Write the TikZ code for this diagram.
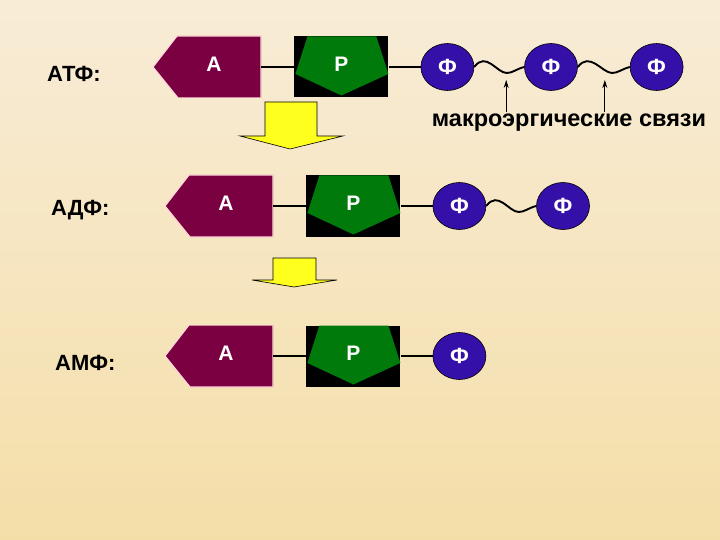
\documentclass[tikz,border=0pt]{standalone}
\usepackage{fontspec}
\setmainfont{Liberation Sans}
\usetikzlibrary{arrows.meta,positioning,shapes.geometric,calc}

\definecolor{bgtop}{HTML}{F8ECD7}
\definecolor{bgbot}{HTML}{F4DEA8}
\definecolor{adenin}{HTML}{7A0042}
\definecolor{ribose}{HTML}{007A0A}
\definecolor{phos}{HTML}{3510A8}
\definecolor{yarr}{HTML}{FFFF1E}

\newcommand\raisetxt[2]{\hspace*{#1}\raisebox{5pt}{#2}}

\begin{document}
\begin{tikzpicture}[x=1pt, y=-1pt,
  base/.style={rectangle, minimum width=108pt, minimum height=62pt, inner sep=0pt,
    font=\fontsize{21}{21}\selectfont\bfseries, text=white,
    path picture={\filldraw[fill=adenin, draw=pink!60!white, line width=1.2pt]
      ($(path picture bounding box.north west)+(24,0)$) -- (path picture bounding box.north east)
      -- (path picture bounding box.south east) -- ($(path picture bounding box.south west)+(25,0)$)
      -- (path picture bounding box.west) -- cycle;}},
  sugar/.style={rectangle, fill=black, minimum width=94pt, minimum height=61pt, inner sep=0pt,
    font=\fontsize{21}{21}\selectfont\bfseries, text=white,
    path picture={\fill[ribose]
      ($(path picture bounding box.north west)+(13,0)$) -- ($(path picture bounding box.north east)+(-12,0)$)
      -- ($(path picture bounding box.east)+(0,7)$) -- ($(path picture bounding box.south)+(0,-2)$)
      -- ($(path picture bounding box.west)+(1,7)$) -- cycle;}},
  phos/.style={ellipse, fill=phos, draw=black, line width=0.6pt, minimum width=53pt, minimum height=47pt,
    inner sep=0pt, font=\fontsize{22}{22}\selectfont\bfseries, text=white},
  link/.style={line width=1.4pt},
  bond/.style={line width=1.9pt},
  tip/.style={-{Stealth[length=8pt,width=5pt]}, line width=0.8pt},
  rowlab/.style={font=\fontsize{22}{22}\selectfont\bfseries, anchor=base west, inner sep=0pt},
  lab/.style={font=\fontsize{23.5}{23.5}\selectfont\bfseries, inner sep=2pt},
  yarrow/.style={fill=yarr, draw=black, line width=0.6pt}]
\shade[top color=bgtop, bottom color=bgbot] (0,0) rectangle (720,540);
\useasboundingbox (0,0) rectangle (720,540);
% ATP
\node[rowlab] (atp) at (47,82) {АТФ:};
\node[base] (a1) at (207,67) {\raisetxt{14pt}{А}};
\node[sugar, right=33pt of a1] (p1) {\raisetxt{0pt}{Р}};
\node[phos, right=32pt of p1] (f1) {Ф};
\node[phos, right=50pt of f1] (f2) {Ф};
\node[phos, right=52pt of f2] (f3) {Ф};
\draw[link] (a1.east) -- (p1.west);
\draw[link] (p1.east) -- (f1.west);
\coordinate (w1) at ($(f1.east)!0.65!(f2.west)+(0,6)$);
\coordinate (w2) at ($(f2.east)!0.66!(f3.west)+(0,6)$);
\draw[bond] (f1.east) .. controls +(12,-16) and +(-10,0) .. (w1) .. controls +(6,0) and +(-8,2) .. (f2.west);
\draw[bond] (f2.east) .. controls +(12,-16) and +(-10,0) .. (w2) .. controls +(6,0) and +(-8,2) .. (f3.west);
\node[lab] (mk) at (569,123) {макроэргические связи};
\coordinate (t1) at ($(f1.east)!0.64!(f2.west)+(0,13)$);
\coordinate (t2) at ($(f2.east)!0.52!(f3.west)+(0,13)$);
\draw[tip] (t1 |- mk.north) -- (t1);
\draw[tip] (t2 |- mk.north) -- (t2);
\draw[yarrow] (265,102) -- (317,102) -- (317,136) -- (343,136) -- (290,149) -- (240,136) -- (265,136) -- cycle;
% ADP
\node[rowlab] (adp) at (51,215) {АДФ:};
\node[base] (a2) at (219,206) {\raisetxt{14pt}{А}};
\node[sugar, right=33pt of a2] (p2) {\raisetxt{0pt}{Р}};
\node[phos, right=32pt of p2] (g1) {Ф};
\node[phos, right=50pt of g1] (g2) {Ф};
\draw[link] (a2.east) -- (p2.west);
\draw[link] (p2.east) -- (g1.west);
\coordinate (w3) at ($(g1.east)!0.65!(g2.west)+(0,6)$);
\draw[bond] (g1.east) .. controls +(12,-16) and +(-10,0) .. (w3) .. controls +(6,0) and +(-8,2) .. (g2.west);
\draw[yarrow] (273,258) -- (316,258) -- (316,280) -- (337,280) -- (294,287) -- (252,280) -- (273,280) -- cycle;
% AMP
\node[rowlab] (amp) at (55,370) {АМФ:};
\node[base] (a3) at (219,356) {\raisetxt{14pt}{А}};
\node[sugar, right=33pt of a3] (p3) {\raisetxt{0pt}{Р}};
\node[phos, right=32pt of p3] (h1) {Ф};
\draw[link] (a3.east) -- (p3.west);
\draw[link] (p3.east) -- (h1.west);
\end{tikzpicture}
\end{document}
